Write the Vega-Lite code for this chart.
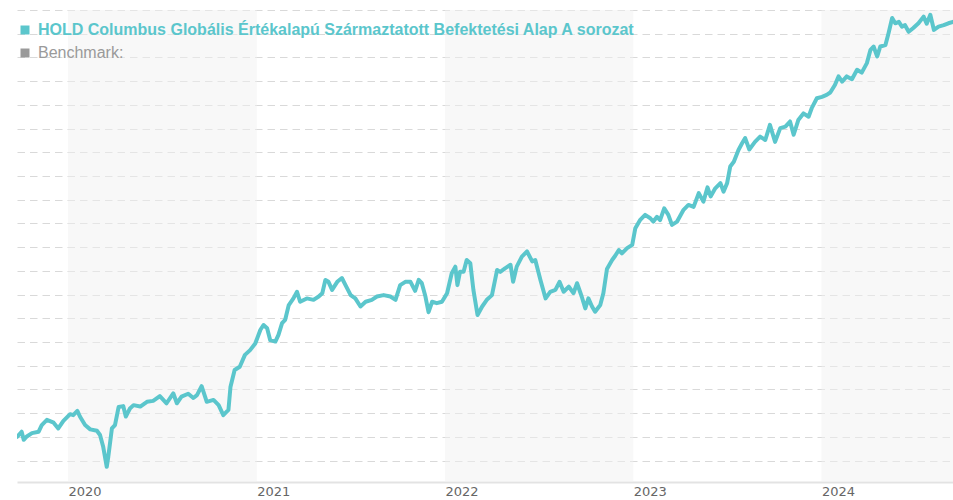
{
  "$schema": "https://vega.github.io/schema/vega-lite/v6.json",
  "width": 936,
  "height": 472,
  "autosize": "none",
  "padding": {"left": 17, "top": 10, "right": 0, "bottom": 18},
  "background": "white",
  "config": {"view": {"stroke": null}},
  "layer": [
    {
      "data": {"values": [
        {"start": "2020-01-01", "end": "2021-01-01"},
        {"start": "2022-01-01", "end": "2023-01-01"},
        {"start": "2024-01-01", "end": "2025-01-01"}
      ]},
      "mark": {"type": "rect", "color": "#f1f1f1", "opacity": 0.5, "clip": true},
      "encoding": {
        "x": {"field": "start", "type": "temporal"},
        "x2": {"field": "end"}
      }
    },
    {
      "data": {"values": [
        {"date":"2019-09-24","value":85.0},{"date":"2019-10-03","value":86.1},{"date":"2019-10-07","value":84.4},{"date":"2019-10-13","value":85.1},{"date":"2019-10-23","value":85.8},{"date":"2019-11-05","value":86.1},{"date":"2019-11-11","value":87.5},{"date":"2019-11-21","value":88.6},{"date":"2019-12-04","value":88.0},{"date":"2019-12-13","value":86.8},{"date":"2019-12-23","value":88.4},
        {"date":"2020-01-05","value":89.8},{"date":"2020-01-11","value":89.6},{"date":"2020-01-19","value":90.5},{"date":"2020-01-24","value":89.3},{"date":"2020-02-03","value":87.5},{"date":"2020-02-13","value":86.6},{"date":"2020-02-26","value":86.3},{"date":"2020-03-03","value":85.4},{"date":"2020-03-09","value":83.0},{"date":"2020-03-16","value":78.7},{"date":"2020-03-19","value":80.8},{"date":"2020-03-26","value":86.8},{"date":"2020-04-01","value":87.5},{"date":"2020-04-08","value":91.3},{"date":"2020-04-17","value":91.5},{"date":"2020-04-22","value":89.3},{"date":"2020-04-30","value":91.0},{"date":"2020-05-07","value":91.7},{"date":"2020-05-20","value":91.4},{"date":"2020-06-02","value":92.4},{"date":"2020-06-14","value":92.6},{"date":"2020-06-27","value":93.6},{"date":"2020-07-10","value":92.1},{"date":"2020-07-23","value":94.2},{"date":"2020-07-30","value":92.1},{"date":"2020-08-08","value":93.5},{"date":"2020-08-21","value":94.1},{"date":"2020-08-31","value":93.2},{"date":"2020-09-07","value":93.8},{"date":"2020-09-16","value":95.7},{"date":"2020-09-26","value":92.4},{"date":"2020-10-09","value":92.8},{"date":"2020-10-19","value":91.7},{"date":"2020-10-28","value":89.6},{"date":"2020-11-07","value":90.7},{"date":"2020-11-11","value":95.6},{"date":"2020-11-19","value":99.1},{"date":"2020-11-29","value":99.8},{"date":"2020-12-09","value":102.3},{"date":"2020-12-19","value":103.3},{"date":"2020-12-29","value":104.7},
        {"date":"2021-01-08","value":107.6},{"date":"2021-01-14","value":108.6},{"date":"2021-01-21","value":107.9},{"date":"2021-01-27","value":105.4},{"date":"2021-02-06","value":105.1},{"date":"2021-02-12","value":106.5},{"date":"2021-02-19","value":109.0},{"date":"2021-02-25","value":109.7},{"date":"2021-03-04","value":112.8},{"date":"2021-03-13","value":114.2},{"date":"2021-03-20","value":115.6},{"date":"2021-03-26","value":113.5},{"date":"2021-04-08","value":114.2},{"date":"2021-04-21","value":113.9},{"date":"2021-05-01","value":114.6},{"date":"2021-05-08","value":115.3},{"date":"2021-05-14","value":118.1},{"date":"2021-05-20","value":117.7},{"date":"2021-05-27","value":116.0},{"date":"2021-06-06","value":117.7},{"date":"2021-06-15","value":118.5},{"date":"2021-06-22","value":117.0},{"date":"2021-07-02","value":114.9},{"date":"2021-07-11","value":114.2},{"date":"2021-07-21","value":112.5},{"date":"2021-07-31","value":113.5},{"date":"2021-08-12","value":113.9},{"date":"2021-08-22","value":114.6},{"date":"2021-09-04","value":114.9},{"date":"2021-09-17","value":114.6},{"date":"2021-09-27","value":113.9},{"date":"2021-10-06","value":117.0},{"date":"2021-10-16","value":117.7},{"date":"2021-10-26","value":117.7},{"date":"2021-11-04","value":115.8},{"date":"2021-11-11","value":118.1},{"date":"2021-11-17","value":117.4},{"date":"2021-11-24","value":114.6},{"date":"2021-11-30","value":111.3},{"date":"2021-12-07","value":113.5},{"date":"2021-12-16","value":113.2},{"date":"2021-12-26","value":113.5},
        {"date":"2022-01-05","value":115.3},{"date":"2022-01-14","value":119.5},{"date":"2022-01-21","value":120.9},{"date":"2022-01-25","value":117.0},{"date":"2022-01-30","value":119.8},{"date":"2022-02-06","value":119.8},{"date":"2022-02-12","value":122.3},{"date":"2022-02-19","value":121.6},{"date":"2022-02-25","value":116.0},{"date":"2022-03-05","value":110.7},{"date":"2022-03-14","value":112.5},{"date":"2022-03-23","value":113.9},{"date":"2022-04-02","value":114.9},{"date":"2022-04-12","value":120.2},{"date":"2022-04-18","value":119.8},{"date":"2022-04-28","value":120.6},{"date":"2022-05-08","value":121.3},{"date":"2022-05-13","value":117.7},{"date":"2022-05-20","value":120.9},{"date":"2022-05-30","value":123.0},{"date":"2022-06-09","value":124.1},{"date":"2022-06-19","value":122.0},{"date":"2022-06-25","value":122.3},{"date":"2022-07-05","value":118.1},{"date":"2022-07-15","value":114.2},{"date":"2022-07-24","value":115.6},{"date":"2022-08-03","value":116.0},{"date":"2022-08-11","value":117.7},{"date":"2022-08-19","value":115.6},{"date":"2022-08-29","value":116.7},{"date":"2022-09-07","value":115.3},{"date":"2022-09-14","value":117.4},{"date":"2022-09-23","value":114.6},{"date":"2022-09-30","value":112.1},{"date":"2022-10-06","value":114.2},{"date":"2022-10-13","value":112.5},{"date":"2022-10-19","value":111.4},{"date":"2022-10-29","value":112.8},{"date":"2022-11-04","value":115.3},{"date":"2022-11-11","value":120.4},{"date":"2022-11-21","value":122.3},{"date":"2022-11-27","value":123.2},{"date":"2022-12-04","value":124.4},{"date":"2022-12-10","value":123.7},{"date":"2022-12-20","value":124.8},{"date":"2022-12-30","value":125.5},
        {"date":"2023-01-05","value":129.0},{"date":"2023-01-14","value":130.7},{"date":"2023-01-24","value":131.8},{"date":"2023-02-03","value":131.1},{"date":"2023-02-09","value":130.4},{"date":"2023-02-16","value":131.4},{"date":"2023-02-22","value":130.7},{"date":"2023-03-02","value":133.2},{"date":"2023-03-10","value":131.8},{"date":"2023-03-17","value":129.7},{"date":"2023-03-27","value":130.4},{"date":"2023-04-08","value":132.8},{"date":"2023-04-18","value":133.9},{"date":"2023-04-28","value":133.5},{"date":"2023-05-08","value":136.4},{"date":"2023-05-17","value":134.6},{"date":"2023-05-25","value":137.6},{"date":"2023-05-31","value":135.7},{"date":"2023-06-09","value":137.4},{"date":"2023-06-19","value":138.5},{"date":"2023-06-25","value":136.7},{"date":"2023-07-02","value":138.5},{"date":"2023-07-08","value":142.0},{"date":"2023-07-15","value":143.0},{"date":"2023-07-24","value":145.5},{"date":"2023-07-31","value":146.9},{"date":"2023-08-06","value":148.0},{"date":"2023-08-14","value":145.6},{"date":"2023-08-25","value":147.2},{"date":"2023-09-04","value":148.3},{"date":"2023-09-14","value":147.6},{"date":"2023-09-23","value":150.8},{"date":"2023-10-03","value":147.2},{"date":"2023-10-13","value":150.1},{"date":"2023-10-23","value":150.4},{"date":"2023-11-01","value":151.5},{"date":"2023-11-08","value":148.7},{"date":"2023-11-17","value":151.8},{"date":"2023-11-27","value":153.2},{"date":"2023-12-07","value":152.5},{"date":"2023-12-13","value":154.3},{"date":"2023-12-23","value":156.4},
        {"date":"2024-01-02","value":156.7},{"date":"2024-01-11","value":157.1},{"date":"2024-01-18","value":157.6},{"date":"2024-01-27","value":159.2},{"date":"2024-02-03","value":161.0},{"date":"2024-02-10","value":159.9},{"date":"2024-02-19","value":161.0},{"date":"2024-02-29","value":160.4},{"date":"2024-03-10","value":162.4},{"date":"2024-03-19","value":161.8},{"date":"2024-03-29","value":163.8},{"date":"2024-04-05","value":166.6},{"date":"2024-04-11","value":167.3},{"date":"2024-04-18","value":165.2},{"date":"2024-04-24","value":167.3},{"date":"2024-05-04","value":167.6},{"date":"2024-05-10","value":170.1},{"date":"2024-05-17","value":173.3},{"date":"2024-05-23","value":172.2},{"date":"2024-05-30","value":172.5},{"date":"2024-06-05","value":171.5},{"date":"2024-06-11","value":171.8},{"date":"2024-06-18","value":170.4},{"date":"2024-06-27","value":171.2},{"date":"2024-07-07","value":172.2},{"date":"2024-07-17","value":173.6},{"date":"2024-07-23","value":172.1},{"date":"2024-07-30","value":174.0},{"date":"2024-08-06","value":170.8},{"date":"2024-08-15","value":171.5},{"date":"2024-08-25","value":171.8},{"date":"2024-09-03","value":172.2},{"date":"2024-09-12","value":172.5}
      ]},
      "mark": {"type": "line", "strokeWidth": 4, "strokeJoin": "round", "strokeCap": "round", "clip": true},
      "encoding": {
        "x": {
          "field": "date", "type": "temporal",
          "scale": {"type": "utc", "domain": [{"year": 2019, "month": 9, "date": 24, "utc": true}, {"year": 2024, "month": 9, "date": 12, "utc": true}], "nice": false},
          "axis": {
            "title": null,
            "values": [{"year": 2020, "month": 1, "date": 1, "utc": true}, {"year": 2021, "month": 1, "date": 1, "utc": true}, {"year": 2022, "month": 1, "date": 1, "utc": true}, {"year": 2023, "month": 1, "date": 1, "utc": true}, {"year": 2024, "month": 1, "date": 1, "utc": true}],
            "format": "%Y",
            "grid": false,
            "ticks": false,
            "domainColor": "#e3e3e3",
            "domainWidth": 2,
            "labelAlign": "left",
            "labelBaseline": "top",
            "labelPadding": 3,
            "labelFont": "DejaVu Sans",
            "labelFontSize": 13,
            "labelColor": "#666666",
            "labelFlush": false
          }
        },
        "y": {
          "field": "value", "type": "quantitative",
          "scale": {"domain": [75.5, 175], "nice": false, "zero": false},
          "axis": {
            "title": null,
            "values": [80, 85, 90, 95, 100, 105, 110, 115, 120, 125, 130, 135, 140, 145, 150, 155, 160, 165, 170, 175],
            "labels": false,
            "ticks": false,
            "domain": false,
            "grid": true,
            "gridColor": "#d9d9d9",
            "gridDash": [7.5, 5],
            "gridWidth": 1
          }
        },
        "color": {
          "datum": "HOLD Columbus Globális Értékalapú Származtatott Befektetési Alap A sorozat",
          "type": "nominal",
          "scale": {"domain": ["HOLD Columbus Globális Értékalapú Származtatott Befektetési Alap A sorozat", "Benchmark:"], "range": ["#5bc6cc", "#9a9a9a"]},
          "legend": {
            "title": null,
            "orient": "none",
            "legendX": 0,
            "legendY": 12,
            "padding": 0,
            "symbolType": "square",
            "symbolSize": 81,
            "symbolStrokeWidth": 0,
            "labelOffset": 5,
            "rowPadding": 7,
            "labelFont": "Liberation Sans",
            "labelFontSize": 16,
            "labelLimit": 900,
            "encode": {
              "symbols": {"update": {"fill": {"signal": "datum.value === 'Benchmark:' ? '#9a9a9a' : '#5bc6cc'"}, "opacity": {"value": 1}}},
              "labels": {"update": {
                "fill": {"signal": "datum.value === 'Benchmark:' ? '#9a9a9a' : '#5bc6cc'"},
                "fontWeight": {"signal": "datum.value === 'Benchmark:' ? 'normal' : 'bold'"}
              }}
            }
          }
        }
      }
    }
  ]
}
